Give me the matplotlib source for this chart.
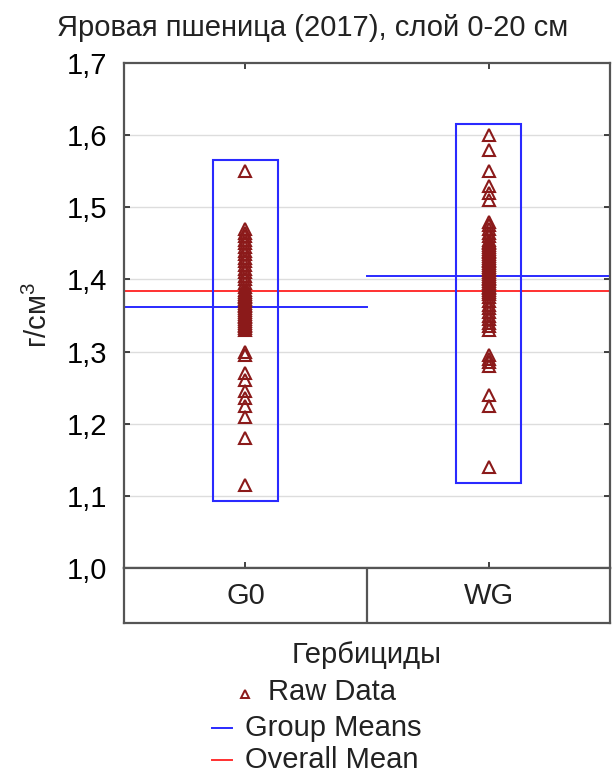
import numpy as np
import matplotlib
matplotlib.use("Agg")
import matplotlib.pyplot as plt
from matplotlib.patches import Rectangle
from matplotlib.lines import Line2D

plt.rcParams['font.family'] = ['Liberation Sans', 'DejaVu Sans']
plt.rcParams['mathtext.fontset'] = 'custom'
plt.rcParams['mathtext.rm'] = 'Liberation Sans'
plt.rcParams['mathtext.it'] = 'Liberation Sans'

# bulk density, g/cm3, by herbicide group
groups = ['G0', 'WG']
g0_values = [1.55,
             1.47, 1.465, 1.46, 1.455, 1.45, 1.445, 1.44, 1.435, 1.43, 1.425,
             1.42, 1.415, 1.41, 1.405, 1.40, 1.395, 1.39, 1.385, 1.38, 1.375,
             1.37, 1.365, 1.36, 1.355, 1.35, 1.345, 1.34, 1.335, 1.33,
             1.3325, 1.3375, 1.3425, 1.3475, 1.3525, 1.3575, 1.3625, 1.3675,
             1.3725, 1.3775, 1.3825,
             1.30, 1.295, 1.27, 1.26, 1.245, 1.235, 1.225, 1.21, 1.18, 1.115]
wg_values = [1.60, 1.58, 1.55, 1.53, 1.52, 1.51,
             1.48, 1.475, 1.47, 1.465, 1.46, 1.455, 1.45, 1.445, 1.44, 1.435,
             1.43, 1.425, 1.42, 1.415, 1.41, 1.405, 1.40, 1.395, 1.39, 1.385,
             1.38, 1.375, 1.37, 1.365, 1.36, 1.355, 1.35, 1.345, 1.34, 1.335, 1.33,
             1.3825, 1.3875, 1.3925, 1.3975, 1.4025, 1.4075, 1.4125, 1.4175,
             1.4225, 1.4275, 1.4325, 1.4375, 1.4425, 1.4475, 1.4525,
             1.295, 1.29, 1.285, 1.28, 1.24, 1.225, 1.14]
yticks = [1.0, 1.1, 1.2, 1.3, 1.4, 1.5, 1.6, 1.7]

data = [g0_values, wg_values]
all_values = g0_values + wg_values
overall_mean = np.mean(all_values)

fig = plt.figure(figsize=(6.15, 7.75), dpi=100)
ax = fig.add_axes([0.2016, 0.2671, 0.7903, 0.6516])
axc = fig.add_axes([0.2016, 0.1961, 0.7903, 0.0710])

frame = '#555555'
tri_color = '#8b1a1a'
blue = '#2a2aff'
red = '#ff3030'
fs = 21

ax.set_xlim(0, 2)
ax.set_ylim(1.0, 1.7)
for y in yticks[1:-1]:
    ax.axhline(y, color='#dddddd', lw=1, zorder=0)

for i, vals in enumerate(data):
    xc = i + 0.5
    ax.plot([xc] * len(vals), vals, ls='none', marker='^', ms=9,
            mfc='none', mec=tri_color, mew=1.5, zorder=3)
    lo, hi = min(vals) - 0.022, max(vals) + 0.016
    ax.add_patch(Rectangle((xc - 0.134, lo), 0.268, hi - lo, fill=False,
                           ec=blue, lw=1.5, zorder=4))
    ax.plot([i, i + 1], [np.mean(vals)] * 2, color=blue, lw=1.4, zorder=2)

ax.axhline(overall_mean, color=red, lw=1.4, zorder=2)

ax.set_yticks(yticks)
ax.set_yticklabels([f"{v:.1f}".replace('.', ',') for v in yticks], fontsize=fs)
ax.set_xticks([0.5, 1.5])
ax.set_xticklabels([])
ax.tick_params(direction='in', length=4, width=1.2, color='#222222',
               left=True, right=True, top=True, bottom=True, pad=12)
for s in ax.spines.values():
    s.set_color(frame)
    s.set_linewidth(1.6)

# category strip under the plot
axc.set_xlim(0, 2)
axc.set_ylim(0, 1)
axc.set_xticks([])
axc.set_yticks([])
axc.axvline(1, color=frame, lw=1.6)
for s in axc.spines.values():
    s.set_color(frame)
    s.set_linewidth(1.6)
for i, g in enumerate(groups):
    axc.text(i + 0.5, 0.5, g, ha='center', va='center', fontsize=fs, color='#222222')

fig.text(0.509, 0.964, 'Яровая пшеница (2017), слой 0-20 см',
         ha='center', va='center', fontsize=fs, color='#222222')
fig.text(0.062, 0.594, 'г/см$^3$', rotation=90, ha='center', va='center',
         fontsize=fs, color='#222222')
fig.text(0.596, 0.155, 'Гербициды', ha='center', va='center',
         fontsize=fs, color='#222222')

# legend rows
fig.add_artist(Line2D([245 / 615], [1 - 694 / 775], transform=fig.transFigure,
                      ls='none', marker='^', ms=6, mfc='none', mec=tri_color, mew=1.4))
fig.text(268 / 615, 1 - 692 / 775, 'Raw Data', ha='left', va='center',
         fontsize=fs, color='#222222')
for row_y, color, label in [(728, blue, 'Group Means'), (760, red, 'Overall Mean')]:
    fig.add_artist(Line2D([212 / 615, 232 / 615], [1 - row_y / 775] * 2,
                          transform=fig.transFigure, color=color, lw=1.4))
    fig.text(245 / 615, 1 - row_y / 775, label, ha='left', va='center',
             fontsize=fs, color='#222222')

fig.savefig('out.png', dpi=100)
